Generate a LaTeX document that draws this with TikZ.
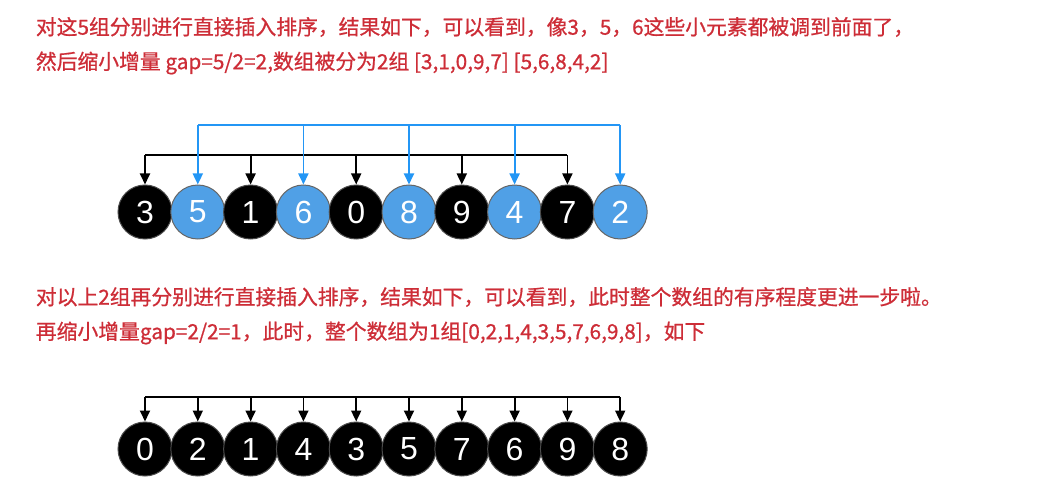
\documentclass[tikz,border=0pt]{standalone}
\usepackage{fontspec}
\newfontfamily\cjk[FakeBold=0.8]{Noto Sans CJK SC}
\newfontfamily\ballfont{Liberation Sans}
\usetikzlibrary{arrows.meta,positioning}

\definecolor{notered}{RGB}{205,45,55}
\definecolor{ballblue}{RGB}{80,160,230}
\definecolor{lineblue}{RGB}{35,150,245}

\begin{document}
\begin{tikzpicture}[
        x=1pt, y=-1pt,
        >={Triangle[width=10pt,length=11pt]},
        line width=1.8pt,
        note/.style={anchor=west, inner sep=0pt, text=notered, font=\cjk\fontsize{20.8}{21}\selectfont},
        ball/.style={circle, minimum size=54pt, inner sep=0pt, line width=1pt,
            text=white, font=\ballfont\fontsize{32}{32}\selectfont},
        blackball/.style={ball, fill=black, draw=black!70},
        blueball/.style={ball, fill=ballblue, draw=black!60},
    ]
        \useasboundingbox (0,0) rectangle (1057,486);

        % Notes
        \node[note] (t1) at (35,27) {对这5组分别进行直接插入排序，结果如下，可以看到，像3，5，6这些小元素都被调到前面了，};
        \node[note] (t2) at (35,63) {然后缩小增量 gap=5/2=2,数组被分为2组 [3,1,0,9,7] [5,6,8,4,2]};
        \node[note] (t3) at (35,297) {对以上2组再分别进行直接插入排序，结果如下，可以看到，此时整个数组的有序程度更进一步啦。};
        \node[note] (t4) at (35,333) {再缩小增量gap=2/2=1，此时，整个数组为1组[0,2,1,4,3,5,7,6,9,8]，如下};

        % First row, gap = 2
        \foreach \v/\s [count=\i from 0] in {3/blackball,5/blueball,1/blackball,6/blueball,0/blackball,
                8/blueball,9/blackball,4/blueball,7/blackball,2/blueball} {
            \node[\s] (a\i) at (145+52.8*\i,212) {\v};
        }

        % Brackets of the two groups
        \coordinate (bk) at (0,155);
        \coordinate (bl) at (0,125);
        \draw (a0.north |- bk) -- (a8.north |- bk);
        \foreach \i in {0,2,4,6,8} {
            \draw[->] (a\i.north |- bk) -- (a\i);
        }
        \draw[lineblue] (a1.north |- bl) -- (a9.north |- bl);
        \foreach \i in {1,3,5,7,9} {
            \draw[->, lineblue] (a\i.north |- bl) -- (a\i);
        }

        % Second row, gap = 1
        \foreach \v [count=\i from 0] in {0,2,1,4,3,5,7,6,9,8} {
            \node[blackball] (b\i) at (145+52.8*\i,449) {\v};
        }
        \coordinate (bb) at (0,397);
        \draw (b0.north |- bb) -- (b9.north |- bb);
        \foreach \i in {0,...,9} {
            \draw[->] (b\i.north |- bb) -- (b\i);
        }
    \end{tikzpicture}
\end{document}
